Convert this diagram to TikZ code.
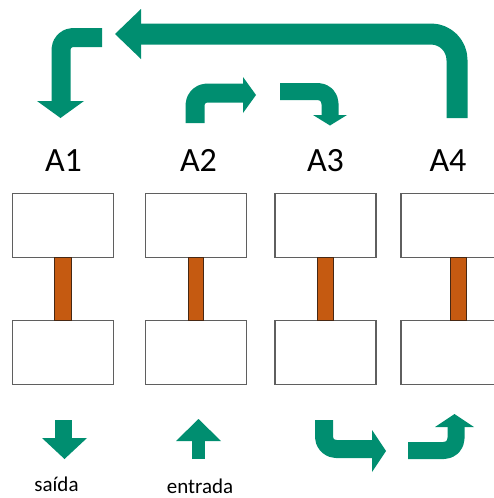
\documentclass[tikz,border=0pt]{standalone}
\usepackage{fontspec}
\setmainfont{Carlito}
\usetikzlibrary{calc}
\definecolor{flow}{RGB}{0,142,112}
\definecolor{rod}{RGB}{197,90,17}
\definecolor{rodedge}{RGB}{70,40,20}
\definecolor{frame}{RGB}{95,95,95}
\begin{document}
\begin{tikzpicture}[x=1pt,y=-1pt,
  box/.style={draw=frame,line width=1.3pt,fill=white,inner sep=0pt,outer sep=0pt,
    minimum width=101pt,minimum height=64pt},
  rodbar/.style={fill=rod,draw=rodedge,line width=0.9pt},
  stem/.style={draw=flow,line cap=butt,line join=round},
  head/.style={fill=flow},
  tag/.style={font=\fontsize{34}{34}\selectfont,anchor=base,inner sep=0pt},
  note/.style={font=\fontsize{21}{21}\selectfont,anchor=base,inner sep=0pt}]
\useasboundingbox (0,0) rectangle (494,498);
\clip (0,0) rectangle (494,498);

% station labels
\node[tag] (l1) at (63.5,171) {A1};
\node[tag] (l2) at (198.5,171) {A2};
\node[tag] (l3) at (325.5,171) {A3};
\node[tag] (l4) at (448,171) {A4};

% upper and lower blocks
\node[box] (t1) at (63,225.5) {};
\node[box] (b1) at (63,352.5) {};
\node[box] (t2) at (196,225.5) {};
\node[box] (b2) at (196,352.5) {};
\node[box] (t3) at (325.5,225.5) {};
\node[box] (b3) at (325.5,352.5) {};
\node[box] (t4) at (451.5,225.5) {};
\node[box] (b4) at (451.5,352.5) {};

% rods joining each pair of blocks
\filldraw[rodbar] ($(t1.south)+(-9,0)$) rectangle ($(b1.north)+(8,0)$);
\filldraw[rodbar] ($(t2.south)+(-8,0)$) rectangle ($(b2.north)+(7,0)$);
\filldraw[rodbar] ($(t3.south)+(-8.5,0)$) rectangle ($(b3.north)+(7.5,0)$);
\filldraw[rodbar] ($(t4.south)+(-1.5,0)$) rectangle ($(b4.north)+(14.5,0)$);

% return path from A4 back to A1
\draw[stem,line width=21pt,rounded corners=26pt] (457,118) -- (457,34) -- (138,34);
\fill[head] (141,9) -- (115,34) -- (141,59) -- cycle;
\draw[stem,line width=19pt,rounded corners=12pt] (102,37.5) -- (61,37.5) -- (61,104);
\fill[head] (37,101) -- (60.5,118) -- (84,101) -- cycle;

% transfer A2 -> A3
\draw[stem,line width=19pt,rounded corners=12pt] (195,123) -- (195,93) -- (245,93);
\fill[head] (243,77) -- (256,95) -- (243,113) -- cycle;
\draw[stem,line width=17pt,rounded corners=12pt] (280,91.5) -- (330,91.5) -- (330,117);
\fill[head] (313,115) -- (330,125.5) -- (347,115) -- cycle;

% outlet and inlet
\draw[stem,line width=17pt] (63.5,420) -- (63.5,440);
\fill[head] (42,438) -- (64.5,459) -- (87,438) -- cycle;
\node[note] (out) at (56.5,491) {saída};
\draw[stem,line width=13pt] (198.5,459) -- (198.5,439);
\fill[head] (176,441) -- (198.5,419) -- (221,441) -- cycle;
\node[note] (in) at (200,493) {entrada};

% transfer along the bottom, A3 -> A4
\draw[stem,line width=18pt,rounded corners=12pt] (324,420) -- (324,449) -- (374,449);
\fill[head] (372,430) -- (386,451) -- (372,472) -- cycle;
\draw[stem,line width=17pt,rounded corners=12pt] (408,450.5) -- (456,450.5) -- (456,425);
\fill[head] (435,427) -- (454.5,414) -- (474,427) -- cycle;
\end{tikzpicture}
\end{document}
